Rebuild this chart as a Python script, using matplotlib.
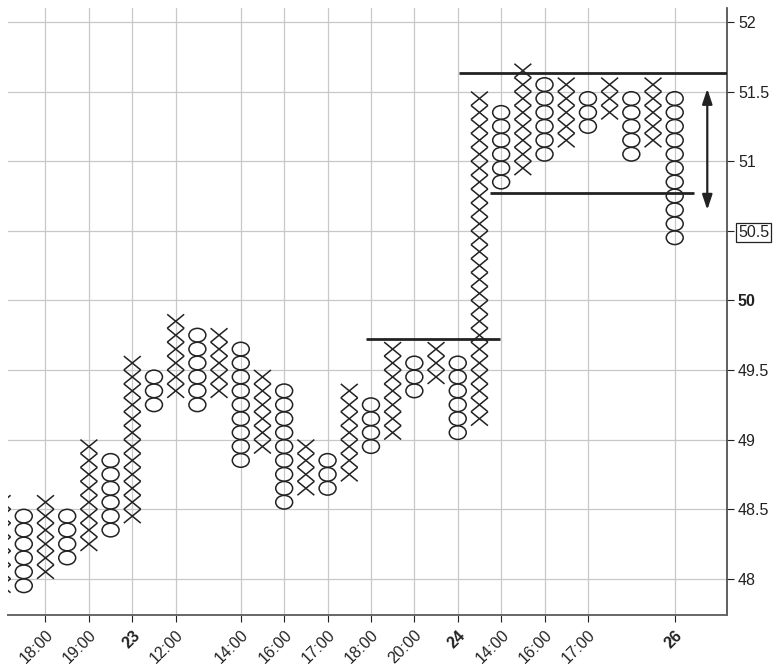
import matplotlib

matplotlib.use("Agg")
import matplotlib.pyplot as plt
from matplotlib.collections import LineCollection, PatchCollection
from matplotlib.patches import Ellipse

plt.rcParams["font.family"] = ["Liberation Sans", "DejaVu Sans"]

INK = "#222222"
GRID = "#c8c8c8"
BOX = 0.1

# point & figure columns: type, lowest box centre, highest box centre
col_type = ["X", "O", "X", "O", "X", "O", "X", "O", "X", "O", "X", "O",
            "X", "O", "X", "O", "X", "O", "X", "O", "X", "O", "X", "O",
            "X", "O", "X", "O", "X", "O", "X", "O"]
col_low = [47.95, 47.95, 48.05, 48.15, 48.25, 48.35, 48.45, 49.25, 49.35, 49.25,
           49.35, 48.85, 48.95, 48.55, 48.65, 48.65, 48.75, 48.95, 49.05, 49.35,
           49.45, 49.05, 49.15, 50.85, 50.95, 51.05, 51.15, 51.25, 51.35, 51.05,
           51.15, 50.45]
col_high = [48.55, 48.45, 48.55, 48.45, 48.95, 48.85, 49.55, 49.45, 49.85, 49.75,
            49.75, 49.65, 49.45, 49.35, 48.95, 48.85, 49.35, 49.25, 49.65, 49.55,
            49.65, 49.55, 51.45, 51.35, 51.65, 51.55, 51.55, 51.45, 51.55, 51.45,
            51.55, 51.45]
first_col = -1

tick_cols = [1, 3, 5, 7, 10, 12, 14, 16, 18, 20, 22, 24, 26, 30]
tick_labels = ["18:00", "19:00", "23", "12:00", "14:00", "16:00", "17:00",
               "18:00", "20:00", "24", "14:00", "16:00", "17:00", "26"]
bold_labels = {"23", "24", "26"}

y_ticks = [48, 48.5, 49, 49.5, 50, 50.5, 51, 51.5, 52]
y_labels = ["48", "48.5", "49", "49.5", "50", "50.5", "51", "51.5", "52"]

# annotation lines: (y, x start, x end)
levels = [(49.72, 15.75, 21.95), (51.63, 20.05, 32.4), (50.77, 21.5, 30.9)]
arrow_x, arrow_top, arrow_bottom = 31.5, 51.52, 50.65

fig = plt.figure(figsize=(7.79, 6.71), dpi=100)
ax = fig.add_axes([0.0105, 0.0835, 0.9225, 0.9045])

x_segments = []
circles = []
w = 0.78
for i, (kind, lo, hi) in enumerate(zip(col_type, col_low, col_high)):
    x = first_col + i
    n = int(round((hi - lo) / BOX)) + 1
    for k in range(n):
        c = lo + k * BOX
        if kind == "X":
            x_segments.append([(x - w / 2, c - BOX / 2), (x + w / 2, c + BOX / 2)])
            x_segments.append([(x - w / 2, c + BOX / 2), (x + w / 2, c - BOX / 2)])
        else:
            circles.append(Ellipse((x, c), w, BOX * 0.98))

ax.add_collection(LineCollection(x_segments, colors=INK, linewidths=1.1, zorder=3))
ax.add_collection(PatchCollection(circles, facecolor="none", edgecolor=INK,
                                  linewidths=1.1, zorder=3))

for y, x0, x1 in levels:
    ax.plot([x0, x1], [y, y], color=INK, lw=2.0, zorder=4, solid_capstyle="butt")

ax.annotate("", xy=(arrow_x, arrow_bottom), xytext=(arrow_x, arrow_top),
            arrowprops=dict(arrowstyle="<|-|>,head_length=0.9,head_width=0.3",
                            color=INK, lw=1.6, shrinkA=0, shrinkB=0))

ax.set_xlim(-0.72, 32.4)
ax.set_ylim(47.74, 52.1)

ax.set_xticks(tick_cols)
ax.set_xticklabels(tick_labels, rotation=45, ha="right", rotation_mode="anchor")
for lab in ax.get_xticklabels():
    if lab.get_text() in bold_labels:
        lab.set_fontweight("bold")

ax.yaxis.tick_right()
ax.set_yticks(y_ticks)
ax.set_yticklabels(y_labels)
for lab in ax.get_yticklabels():
    if lab.get_text() == "50":
        lab.set_fontweight("bold")
    if lab.get_text() == "50.5":
        lab.set_bbox(dict(boxstyle="square,pad=0.12", facecolor="white",
                          edgecolor=INK, linewidth=0.9))

ax.tick_params(axis="both", colors=INK, labelsize=11.5, direction="out",
               length=5, width=0.8, labelcolor=INK)
ax.tick_params(axis="y", pad=3)
ax.tick_params(axis="x", pad=4)

ax.grid(True, color=GRID, lw=0.9)
ax.set_axisbelow(True)
for s in ["top", "left"]:
    ax.spines[s].set_visible(False)
ax.spines["bottom"].set_color("#666666")
ax.spines["bottom"].set_linewidth(1.4)
ax.spines["right"].set_color("#444444")
ax.spines["right"].set_linewidth(1.2)

fig.savefig("out.png", dpi=100, facecolor="white")
